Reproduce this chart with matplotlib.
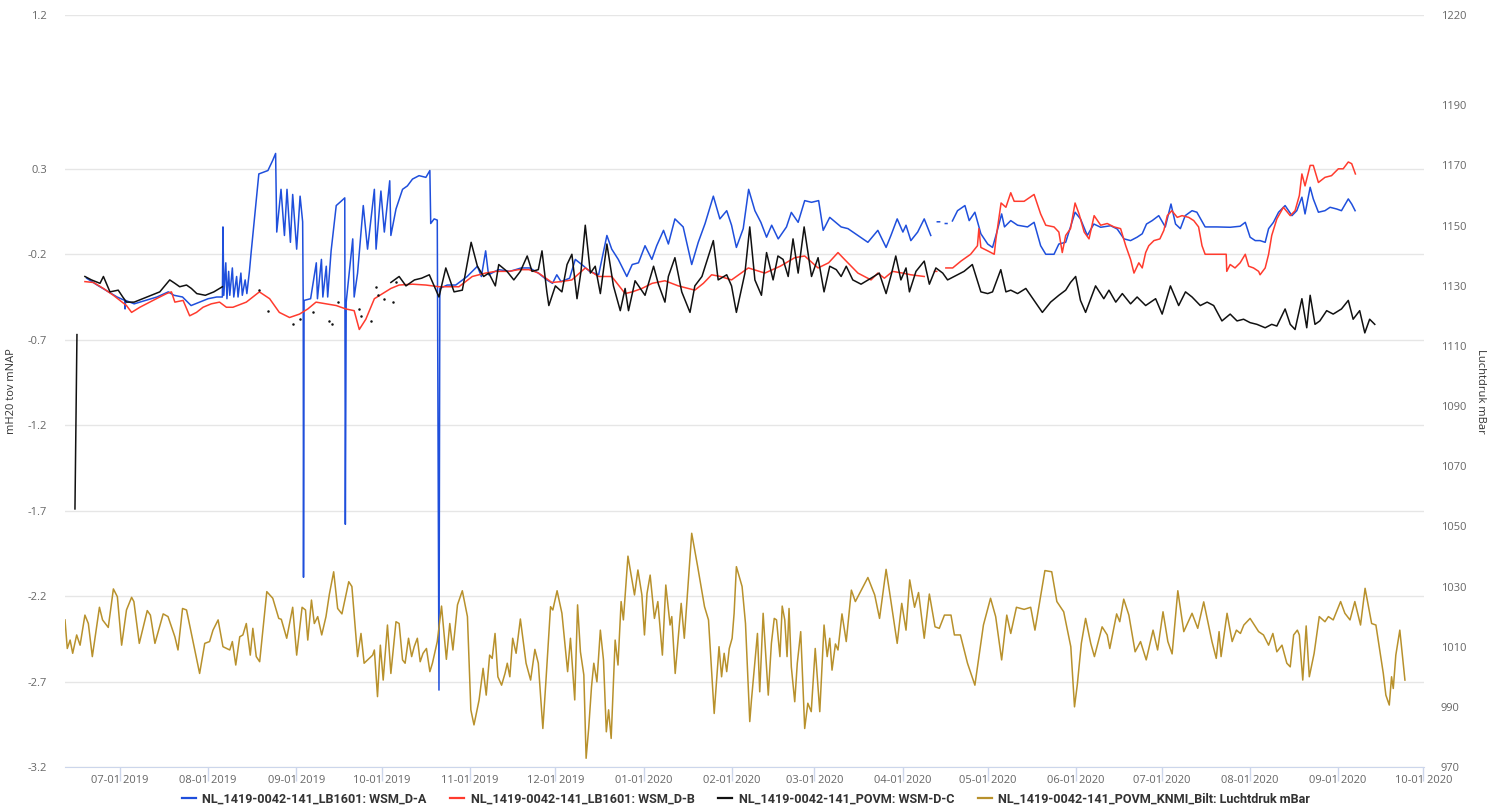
import pandas as pd
import matplotlib
matplotlib.use("Agg")
import matplotlib.pyplot as plt
import matplotlib.dates as mdates
from matplotlib.lines import Line2D

start = pd.Timestamp("2019-07-01")
nan = float("nan")

# peilbuis LB1601 filter A, (days since 2019-07-01, mH2O tov NAP)
wsm_a = [
    (-11.7, -0.34), (-8, -0.38), (-4, -0.42), (-1, -0.45), (1.7, -0.47), (1.8, -0.52), (2, -0.47),
    (5, -0.49), (9, -0.47), (13, -0.45), (17, -0.42), (19, -0.44), (22, -0.45), (25, -0.50),
    (28, -0.48), (31, -0.46), (34, -0.45), (36, -0.45), (36.2, -0.04), (36.5, -0.44), (37.2, -0.25),
    (37.6, -0.46), (38.2, -0.30), (38.6, -0.44), (39.5, -0.28), (40, -0.45), (41, -0.33),
    (41.5, -0.45), (42.5, -0.31), (43, -0.44), (44, -0.35), (44.6, -0.43), (45.5, -0.30),
    (46.1, -0.19), (47.9, 0.12), (48.8, 0.27), (52, 0.29), (53.7, 0.35), (54.7, 0.39),
    (55.1, -0.07), (56.6, 0.18), (57.8, -0.09), (58.7, 0.18), (59.9, -0.13), (60.7, 0.15),
    (62.1, -0.17), (63.3, 0.14), (64.2, -0.01), (64.4, -0.50), (64.5, -2.09), (64.7, -0.47),
    (67, -0.46), (69, -0.25), (69.4, -0.46), (70.8, -0.23), (71.3, -0.45), (72.5, -0.27),
    (73, -0.45), (74.2, -0.18), (76, 0.085), (77.7, 0.11), (79, 0.13), (79.2, -1.78), (79.5, -0.48),
    (81.8, -0.11), (82.3, -0.45), (83.5, -0.31), (85.5, 0.085), (87, -0.17), (89.4, 0.18),
    (90, -0.17), (91.7, 0.17), (92.9, -0.07), (94.8, 0.23), (95.2, -0.09), (97, 0.065),
    (99.3, 0.18), (101, 0.20), (102.8, 0.24), (105.1, 0.26), (107.5, 0.25), (108.9, 0.29),
    (109.2, -0.02), (110.4, 0.007), (111.5, 0.0), (112.1, -2.75), (112.4, -0.40), (115, -0.38),
    (118, -0.38), (122, -0.33), (125.6, -0.27), (127, -0.33), (128.5, -0.18), (129.5, -0.32),
    (133, -0.29), (137, -0.30), (141, -0.28), (144, -0.28), (147, -0.31), (150, -0.35),
    (152, -0.37), (153.5, -0.32), (155, -0.36), (158, -0.34), (160, -0.23), (163, -0.27),
    (165, -0.30), (168.2, -0.32), (171.1, -0.09), (172.8, -0.17), (175.1, -0.23), (178.1, -0.33),
    (180, -0.26), (182.2, -0.25), (184.5, -0.15), (186.9, -0.23), (188.6, -0.15), (191, -0.06),
    (192.7, -0.14), (195, 0.007), (197.9, -0.04), (200.9, -0.26), (203.2, -0.13), (205.6, -0.02),
    (208.5, 0.14), (210.8, 0.007), (213.2, 0.055), (214.9, -0.03), (216.6, -0.16), (219, -0.05),
    (220.9, 0.18), (223.1, 0.055), (225.2, -0.013), (227.2, -0.10), (229, -0.03), (231.3, -0.11),
    (234.2, -0.04), (235.9, 0.045), (238.3, -0.013), (240.6, 0.114), (243, 0.104), (245.5, 0.114),
    (247.1, -0.06), (249.4, 0.016), (253.4, -0.04), (255.8, -0.05), (259.3, -0.09), (262.8, -0.13),
    (266.3, -0.06), (269.2, -0.16), (270.9, -0.09), (273.1, 0.007), (275.1, -0.07), (276.2, -0.03),
    (277.9, -0.12), (280.3, -0.07), (282.6, 0.007), (284.9, -0.09), (285.5, nan), (287.2, -0.01),
    (288, -0.01), (288.5, nan), (290, -0.02), (290.6, -0.02), (291, nan), (292.5, -0.005),
    (294.3, 0.055), (296.9, 0.085), (298.4, -0.003), (300.4, 0.046), (302.5, -0.08), (304.9, -0.14),
    (306.6, -0.16), (307.8, -0.09), (309.8, 0.036), (310.8, -0.04), (313, -0.003), (315.4, -0.03),
    (318.9, -0.04), (321.2, -0.013), (323.5, -0.15), (325.3, -0.20), (328.2, -0.20), (329.9, -0.14),
    (332.3, -0.13), (334, -0.04), (335.6, 0.046), (337.5, 0.007), (339.9, -0.09), (342.2, -0.023),
    (344.6, -0.042), (348.1, -0.033), (350.4, -0.052), (352.8, -0.11), (355.1, -0.12), (357.4, -0.10),
    (359.2, -0.08), (360.7, -0.023), (362.7, -0.003), (365, 0.026), (367.3, -0.04), (369.3, 0.094),
    (370.9, -0.023), (372.6, -0.05), (374.3, 0.026), (376.7, 0.055), (378.4, 0.046), (381.3, -0.04),
    (385.4, -0.04), (390.1, -0.042), (393.6, -0.036), (395.4, -0.013), (397.1, -0.10), (398.9, -0.12),
    (400.6, -0.12), (402.4, -0.13), (403.6, -0.05), (405.3, -0.013), (407.1, 0.046), (409.4, 0.085),
    (411.8, 0.026), (413.5, 0.055), (415.3, 0.134), (416.4, 0.036), (418.2, 0.192), (419.3, 0.124),
    (421.1, 0.046), (423.4, 0.055), (425.2, 0.075), (427.5, 0.065), (429.2, 0.055), (431.6, 0.124),
    (432.8, 0.094), (434, 0.055),
]

# peilbuis LB1601 filter B
wsm_b = [
    (-12.3, -0.36), (-9.3, -0.365), (-5.8, -0.40), (-2.3, -0.44), (2.3, -0.50), (4.1, -0.54),
    (7, -0.51), (9.3, -0.49), (12.8, -0.46), (16.4, -0.43), (18.1, -0.42), (19.3, -0.48),
    (22.2, -0.47), (24.5, -0.56), (26.9, -0.54), (29.2, -0.51), (32.1, -0.49), (35, -0.48),
    (37.4, -0.51), (39.7, -0.51), (44.4, -0.48), (49, -0.42), (52.6, -0.46), (56, -0.54),
    (59.6, -0.57), (63.1, -0.55), (66, -0.52), (68.9, -0.48), (72.4, -0.49), (76, -0.50),
    (79.4, -0.52), (82.3, -0.53), (84.1, -0.64), (86.4, -0.58), (89.4, -0.46), (92.3, -0.43),
    (95.2, -0.40), (98.1, -0.38), (102.8, -0.375), (107.5, -0.38), (112.1, -0.39), (116, -0.39),
    (119.1, -0.39), (123.8, -0.33), (128.5, -0.31), (132, -0.30), (136.7, -0.30), (140, -0.29),
    (143.7, -0.29), (147.1, -0.31), (151.8, -0.365), (155, -0.36), (158.8, -0.35), (163.5, -0.28),
    (168.2, -0.33), (172.8, -0.33), (177.5, -0.43), (180, -0.42), (183.4, -0.40), (187, -0.37),
    (191.5, -0.355), (196.2, -0.385), (202, -0.41), (205, -0.37), (207.9, -0.32), (211, -0.33),
    (214.9, -0.35), (220.8, -0.28), (226.6, -0.31), (232, -0.27), (237.1, -0.22), (240.6, -0.21),
    (245.3, -0.28), (249, -0.25), (252.3, -0.19), (254.6, -0.23), (259.3, -0.31), (263.9, -0.35),
    (266.3, -0.31), (268.6, -0.34), (271.5, -0.30), (275, -0.31), (277.9, -0.32), (282.6, -0.33),
    (284, nan), (286.2, -0.30), (287, -0.30), (287.6, nan), (290.2, -0.28), (292.6, -0.28),
    (295.5, -0.24), (298.9, -0.20), (301.3, -0.15), (301.8, -0.05), (302.5, -0.16), (304.9, -0.18),
    (307.2, -0.20), (307.8, -0.11), (309.6, 0.10), (311.3, 0.075), (313, 0.16), (314.2, 0.11),
    (317.7, 0.11), (321.2, 0.15), (323.5, 0.036), (325.3, -0.03), (328.2, -0.04), (329.9, -0.07),
    (331.1, -0.19), (332.3, -0.09), (334, -0.05), (335.6, 0.10), (337, 0.036), (338.8, -0.07),
    (340.5, -0.11), (342.3, 0.026), (344.6, -0.03), (346.9, -0.02), (349.3, -0.04), (351.6, -0.05),
    (353.4, -0.15), (355.1, -0.23), (356.3, -0.31), (358, -0.25), (359.2, -0.28), (360.4, -0.19),
    (361.5, -0.15), (363.3, -0.12), (365.4, -0.11), (366.8, -0.06), (368, 0.026), (369.6, 0.055),
    (371.5, 0.016), (373.2, 0.026), (375.5, 0.016), (377.3, -0.003), (379, -0.04), (380.2, -0.15),
    (381.3, -0.20), (383.1, -0.20), (386.6, -0.20), (388.7, -0.20), (388.9, -0.30), (390.1, -0.26),
    (391.8, -0.28), (393.6, -0.25), (395.4, -0.20), (396.6, -0.27), (398.3, -0.28), (400.1, -0.30),
    (400.6, -0.32), (402.4, -0.28), (403.6, -0.20), (404.7, -0.09), (406.5, 0.007), (408.8, 0.075),
    (411.2, 0.026), (412.9, 0.055), (414.4, 0.144), (415.3, 0.27), (416.4, 0.20), (418.2, 0.32),
    (419.3, 0.32), (421.1, 0.22), (423.4, 0.25), (425.7, 0.26), (428.1, 0.30), (429.8, 0.30),
    (431.6, 0.34), (432.8, 0.33), (434.1, 0.27),
]

# POVM filter C
wsm_c = [
    (-15.8, -1.69), (-15.1, -0.67), (-14, nan),
    (-12.3, -0.33), (-10, -0.35), (-7, -0.37), (-5.8, -0.33), (-3.5, -0.42), (-0.6, -0.41),
    (1, -0.45), (2.3, -0.48), (5, -0.48), (8, -0.46), (11, -0.44), (14, -0.42), (17.5, -0.35),
    (19.3, -0.37), (21, -0.39), (23.4, -0.38), (25.1, -0.40), (27, -0.43), (30, -0.44),
    (33, -0.42), (35, -0.40), (36, -0.39), (37, nan),
    (95.2, -0.365), (98.1, -0.33), (100.5, -0.385), (103.5, -0.35), (106, -0.34), (108.7, -0.32),
    (112.1, -0.45), (114.5, -0.28), (117.4, -0.42), (120.3, -0.41), (123.4, -0.13), (125.6, -0.27),
    (127.8, -0.33), (129.6, -0.31), (131.9, -0.385), (133.1, -0.26), (136, -0.30), (138.4, -0.35),
    (140.7, -0.30), (143.1, -0.21), (144.8, -0.30), (147, -0.29), (148.3, -0.18), (150, -0.42),
    (150.7, -0.50), (153, -0.385), (155.3, -0.42), (157.1, -0.26), (158.8, -0.20), (160.6, -0.46),
    (162, -0.30), (163.5, -0.03), (165.3, -0.31), (167, -0.27), (168.8, -0.43), (171.1, -0.14),
    (173.4, -0.385), (175.8, -0.53), (177.5, -0.40), (178.7, -0.53), (181, -0.355), (184.5, -0.44),
    (187.5, -0.27), (189.2, -0.375), (191.5, -0.48), (192.7, -0.33), (195, -0.22), (197.4, -0.42),
    (200.3, -0.54), (202, -0.385), (204.5, -0.33), (208.5, -0.12), (210.2, -0.35), (213.2, -0.32),
    (214.9, -0.385), (216.6, -0.54), (219.6, -0.31), (221.3, -0.04), (223.1, -0.35), (225.4, -0.44),
    (227.2, -0.19), (229.5, -0.35), (231.2, -0.21), (233, -0.23), (234.8, -0.33), (236.5, -0.11),
    (238.3, -0.31), (240.4, -0.04), (243, -0.33), (245.3, -0.22), (247.4, -0.42), (249.4, -0.27),
    (251.7, -0.29), (253.4, -0.33), (255.2, -0.27), (257.5, -0.35), (260.4, -0.375), (263.9, -0.34),
    (266.8, -0.31), (269.2, -0.43), (271, -0.32), (272.6, -0.21), (274.4, -0.35), (276.2, -0.28),
    (277.4, -0.42), (279.7, -0.30), (282.6, -0.24), (284.4, -0.375), (286.7, -0.28), (289.1, -0.31),
    (290.8, -0.35), (294.3, -0.32), (296.6, -0.30), (299.5, -0.26), (302.5, -0.42), (304.9, -0.43),
    (306.6, -0.42), (309.5, -0.29), (311.3, -0.42), (313, -0.41), (315.4, -0.43), (318.3, -0.40),
    (321.2, -0.47), (324.1, -0.54), (327, -0.48), (329.9, -0.44), (332.3, -0.41), (334, -0.365),
    (335.8, -0.33), (337.5, -0.47), (339.3, -0.54), (342.8, -0.385), (345.7, -0.46), (347.5, -0.41),
    (349.9, -0.48), (352.2, -0.43), (355.1, -0.49), (357.4, -0.45), (360.4, -0.50), (363.9, -0.46),
    (366.2, -0.55), (369.1, -0.385), (372, -0.50), (374.4, -0.42), (376.7, -0.45), (379.6, -0.50),
    (382, -0.48), (384.3, -0.50), (387.2, -0.59), (390.1, -0.55), (392.5, -0.59), (394.8, -0.58),
    (397.1, -0.60), (399.5, -0.61), (402.4, -0.63), (404.7, -0.61), (406.5, -0.62), (409.4, -0.52),
    (411.2, -0.61), (412.9, -0.64), (415.3, -0.46), (417, -0.63), (418.2, -0.44), (419.9, -0.61),
    (421.6, -0.59), (424, -0.53), (426.3, -0.55), (429.2, -0.52), (431.6, -0.47), (433.3, -0.58),
    (435.6, -0.53), (437.4, -0.66), (439.1, -0.58), (440.9, -0.61),
]

# losse metingen filter C
wsm_c_dots = [
    (49, -0.41), (52, -0.53), (60.7, -0.61), (63.1, -0.58), (67.7, -0.54), (73.6, -0.59),
    (74.5, -0.61), (76.5, -0.48), (84.1, -0.52), (84.8, -0.56), (88.2, -0.59), (90, -0.39),
    (90.6, -0.44), (92.9, -0.46), (95.8, -0.48), (97, -0.365),
]

# KNMI De Bilt, (days since 2019-07-01, mbar)
luchtdruk = [
    (-19.3, 1018.9), (-18.5, 1009.4), (-17.5, 1012.2), (-16.6, 1007.8), (-15.2, 1013.9), (-14.0, 1010.5),
    (-12.3, 1020.5), (-11.1, 1017.7), (-9.7, 1006.7), (-7.2, 1023.1), (-6.1, 1018.9), (-4.1, 1016.4),
    (-2.3, 1029.2), (-0.9, 1026.6), (0.6, 1010.5), (2.3, 1022.2), (4.1, 1026.4), (4.9, 1025.0),
    (6.8, 1011.1), (9.6, 1022.0), (10.7, 1020.5), (12.3, 1011.1), (15.2, 1020.9), (16.9, 1020.0),
    (19.3, 1013.3), (20.4, 1008.9), (22.0, 1022.7), (23.4, 1022.2), (25.1, 1014.4), (28.0, 1001.1),
    (29.8, 1011.1), (31.5, 1011.7), (32.7, 1015.5), (34.5, 1018.9), (36.2, 1010.0), (38.6, 1008.9),
    (39.5, 1011.7), (40.7, 1003.9), (42.1, 1013.3), (43.2, 1013.9), (44.4, 1017.7), (45.8, 1007.2),
    (46.7, 1016.1), (47.9, 1006.7), (49.1, 1005.0), (51.6, 1028.3), (53.7, 1026.1), (55.8, 1019.4),
    (56.7, 1019.1), (58.6, 1012.8), (60.7, 1023.1), (62.1, 1007.2), (64.0, 1023.1), (65.2, 1022.2),
    (66.0, 1012.2), (67.3, 1025.5), (68.3, 1017.7), (69.5, 1020.0), (70.9, 1013.9), (72.4, 1020.0),
    (73.6, 1027.5), (75.1, 1034.9), (76.5, 1022.7), (78.0, 1020.9), (80.4, 1031.6), (81.5, 1030.0),
    (83.5, 1006.7), (84.7, 1014.4), (85.8, 1004.5), (88.8, 1007.2), (89.4, 1008.9), (90.5, 993.4),
    (91.5, 1010.5), (92.5, 998.9), (94.0, 1017.2), (95.2, 1001.1), (97.0, 1018.3), (98.1, 1017.7),
    (99.3, 1005.6), (100.2, 1004.5), (101.4, 1012.8), (102.5, 1006.7), (103.4, 1010.0), (104.5, 1012.8),
    (105.5, 1005.0), (106.5, 1007.8), (107.7, 1009.4), (108.9, 1001.7), (109.8, 1004.5), (111.5, 1011.7),
    (113.0, 1023.5), (114.7, 1005.8), (115.9, 1017.7), (117.0, 1008.9), (118.6, 1023.9), (120.3, 1028.6),
    (122.1, 1020.0), (123.3, 989.0), (124.4, 984.0), (126.2, 992.3), (127.6, 1002.8), (128.7, 993.9),
    (129.9, 1007.2), (130.8, 1006.1), (131.8, 1014.4), (132.8, 1000.0), (134.1, 997.2), (135.3, 1001.1),
    (136.1, 1004.5), (137.0, 1000.0), (138.0, 1012.8), (139.2, 1007.8), (140.7, 1019.2), (142.7, 1004.5),
    (144.3, 998.9), (145.8, 1009.1), (147.0, 1004.5), (148.6, 982.8), (149.7, 998.9), (151.3, 1023.3),
    (152.1, 1022.2), (153.6, 1028.6), (155.3, 1021.1), (157.3, 1001.7), (158.3, 1012.8), (159.8, 992.3),
    (160.8, 1023.9), (161.8, 1008.3), (163.0, 1000.6), (163.8, 972.9), (164.7, 982.8), (165.7, 996.7),
    (166.5, 1004.5), (167.6, 998.3), (168.8, 1015.5), (169.9, 1005.6), (170.9, 981.7), (171.7, 989.0),
    (172.6, 979.5), (174.0, 1012.2), (175.0, 1003.9), (176.1, 1025.0), (176.9, 1018.9), (178.5, 1040.1),
    (180.8, 1027.2), (182.0, 1035.5), (183.4, 1027.2), (184.3, 1013.9), (185.2, 1027.7), (186.3, 1033.8),
    (187.8, 1019.4), (189.0, 1025.0), (190.6, 1007.2), (191.8, 1030.5), (193.3, 1017.2), (193.9, 1020.0),
    (195.1, 1001.1), (197.2, 1024.4), (198.3, 1012.8), (200.9, 1047.7), (203.0, 1036.6), (205.4, 1023.3),
    (206.8, 1018.9), (208.8, 987.8), (210.5, 1010.0), (211.4, 1000.0), (212.3, 1007.8), (213.2, 1001.7),
    (214.1, 1009.4), (215.1, 1012.8), (215.8, 1021.1), (216.6, 1036.6), (218.6, 1030.0), (219.8, 1017.7),
    (221.3, 985.1), (221.9, 992.3), (224.0, 1014.4), (224.8, 995.0), (226.0, 1021.1), (227.8, 993.9),
    (228.9, 1011.1), (229.9, 1019.4), (230.7, 1018.9), (231.9, 1006.7), (232.7, 1023.5), (233.6, 1018.9),
    (234.4, 1006.7), (235.1, 1022.7), (235.9, 1003.3), (237.1, 991.7), (238.0, 1004.5), (239.2, 1015.0),
    (240.6, 982.8), (241.7, 991.2), (242.9, 988.4), (244.3, 1009.4), (245.9, 988.4), (247.4, 1017.2),
    (248.5, 1006.7), (249.4, 1012.8), (250.2, 1002.2), (251.4, 1010.9), (252.3, 1008.9), (253.7, 1020.9),
    (255.2, 1011.7), (257.0, 1028.8), (258.4, 1025.0), (260.5, 1028.8), (262.8, 1033.0), (265.2, 1027.2),
    (266.9, 1019.4), (269.2, 1035.7), (270.4, 1028.3), (273.1, 1011.1), (274.7, 1024.4), (276.2, 1015.5),
    (277.5, 1032.2), (279.2, 1023.1), (280.6, 1028.0), (282.6, 1012.8), (284.4, 1027.5), (286.4, 1016.6),
    (287.9, 1016.1), (289.7, 1020.5), (292.0, 1020.5), (293.2, 1013.9), (295.3, 1013.9), (297.8, 1004.5),
    (300.4, 997.2), (303.4, 1017.2), (305.9, 1026.1), (307.7, 1020.0), (309.8, 1005.6), (311.6, 1020.5),
    (313.0, 1014.4), (315.0, 1023.1), (317.7, 1022.4), (320.0, 1023.1), (321.5, 1015.5), (325.0, 1035.3),
    (327.4, 1034.9), (329.2, 1025.0), (331.6, 1021.6), (334.1, 1010.0), (335.4, 990.0), (336.4, 997.5),
    (337.8, 1011.1), (339.3, 1019.4), (341.1, 1011.1), (342.4, 1006.7), (345.1, 1016.6), (346.9, 1013.9),
    (347.8, 1009.4), (350.2, 1020.9), (351.3, 1018.3), (352.7, 1025.8), (354.5, 1020.5), (356.7, 1008.3),
    (358.6, 1011.7), (360.6, 1005.6), (363.0, 1015.5), (364.6, 1008.9), (366.5, 1021.6), (368.2, 1011.7),
    (369.7, 1007.6), (371.7, 1028.6), (373.8, 1015.0), (376.7, 1021.1), (378.7, 1016.1), (380.8, 1024.9),
    (383.7, 1011.7), (385.2, 1006.1), (386.2, 1015.0), (386.9, 1006.7), (389.0, 1021.1), (390.8, 1011.7),
    (392.3, 1015.5), (393.7, 1014.4), (394.9, 1017.2), (397.1, 1019.4), (400.1, 1015.0), (401.8, 1013.9),
    (403.6, 1010.5), (405.1, 1014.4), (406.5, 1008.3), (408.3, 1010.5), (410.0, 1004.5), (411.2, 1003.3),
    (412.4, 1013.9), (413.7, 1015.5), (414.4, 1013.9), (415.6, 998.9), (416.8, 1016.9), (417.9, 1000.0),
    (419.6, 1007.8), (421.4, 1020.0), (423.4, 1018.3), (424.6, 1020.0), (426.3, 1018.9), (428.9, 1025.0),
    (430.4, 1021.1), (432.2, 1018.9), (433.9, 1025.0), (435.9, 1017.2), (437.5, 1029.4), (439.8, 1017.7),
    (441.3, 1017.2), (443.9, 1001.1), (444.8, 993.9), (446.0, 990.6), (446.8, 1000.0), (447.4, 996.1),
    (448.3, 1007.2), (449.7, 1015.5), (451.5, 998.9),
]

left_ticks = [1.2, 0.3, -0.2, -0.7, -1.2, -1.7, -2.2, -2.7, -3.2]
right_ticks = [970, 990, 1010, 1030, 1050, 1070, 1090, 1110, 1130, 1150, 1170, 1190, 1220]
names = [
    "NL_1419-0042-141_LB1601: WSM_D-A",
    "NL_1419-0042-141_LB1601: WSM_D-B",
    "NL_1419-0042-141_POVM: WSM-D-C",
    "NL_1419-0042-141_POVM_KNMI_Bilt: Luchtdruk mBar",
]
colors = ["#1f4fdc", "#ff3b2e", "#111111", "#b8912c"]


def to_xy(points):
    days, vals = zip(*points)
    return start + pd.to_timedelta(list(days), unit="D"), list(vals)


W, H = 1494, 809
fig = plt.figure(figsize=(W / 100, H / 100), dpi=100)
ax = fig.add_axes([65 / W, 1 - 767 / H, (1424 - 65) / W, (767 - 15) / H])
ax2 = ax.twinx()

lw = 1.1
for pts, c in zip([wsm_a, wsm_b, wsm_c], colors[:3]):
    x, y = to_xy(pts)
    ax.plot(x, y, color=c, lw=lw, zorder=3)
x, y = to_xy(wsm_c_dots)
ax.plot(x, y, ls="none", marker="o", ms=1.8, mew=0, color=colors[2], zorder=3)

x, y = to_xy(luchtdruk)
ax2.plot(x, y, color=colors[3], lw=lw)

ax.set_xlim(start + pd.Timedelta(days=-19.3), start + pd.Timedelta(days=458.2))
ax.set_ylim(-3.2, 1.2)
ax2.set_ylim(970, 1220)

ax.set_yticks(left_ticks)
ax.set_yticklabels([str(v) for v in left_ticks])
ax2.set_yticks(right_ticks)
ax.yaxis.grid(True, color="#e6e6e6", lw=1)
ax.set_axisbelow(True)

ax.xaxis.set_major_locator(mdates.MonthLocator())
ax.xaxis.set_major_formatter(mdates.DateFormatter("%m-%d %Y"))

tick_font = "Open Sans"
ax.tick_params(axis="x", direction="out", length=10, width=1, color="#ccd6eb",
               labelcolor="#666666", labelsize=8, pad=-4)
ax.tick_params(axis="y", length=0, labelcolor="#666666", labelsize=8, pad=13)
ax2.tick_params(axis="y", length=0, labelcolor="#666666", labelsize=8, pad=12)
for lab in ax.get_xticklabels() + ax.get_yticklabels() + ax2.get_yticklabels():
    lab.set_fontfamily(tick_font)

for a in (ax, ax2):
    for s in a.spines.values():
        s.set_visible(False)
ax.spines["bottom"].set_visible(True)
ax.spines["bottom"].set_color("#ccd6eb")

fig.text(12 / W, 1 - 391 / H, "mH20 tov mNAP", rotation=90, ha="center", va="center",
         fontsize=8, color="#333333", family=tick_font)
fig.text(1480 / W, 1 - 391 / H, "Luchtdruk mBar", rotation=270, ha="center", va="center",
         fontsize=8, color="#333333", family=tick_font)

handles = [Line2D([], [], color=c, lw=1.6) for c in colors]
fig.legend(handles, names, loc="center", bbox_to_anchor=(746 / W, 1 - 799 / H), ncol=4,
           frameon=False, handlelength=1.1, handletextpad=0.5, columnspacing=1.9,
           prop={"family": "Roboto", "weight": "bold", "size": 9.1},
           labelcolor="#333333")

fig.savefig("out.png", dpi=100, facecolor="white")
